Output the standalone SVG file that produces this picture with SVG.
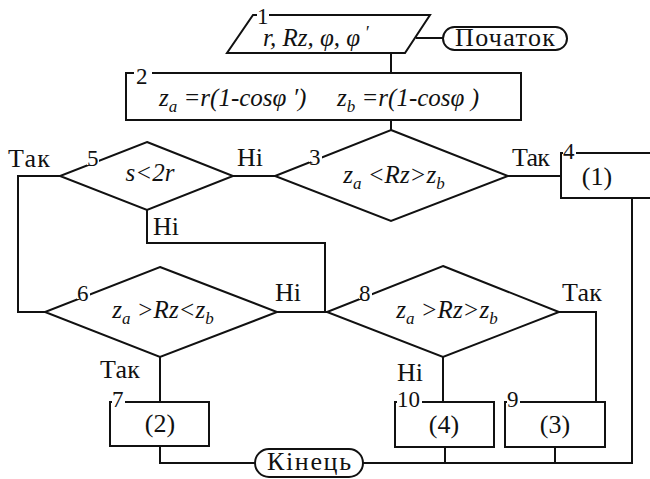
<svg xmlns="http://www.w3.org/2000/svg" width="650" height="479" viewBox="0 0 650 479">
<rect width="650" height="479" fill="#fff"/>
<g id="connectors" fill="none" stroke="#111" stroke-width="2">
<path d="M391,53V73"/>
<path d="M416,38H443"/>
<path d="M391,120V130"/>
<path d="M508,176H561"/>
<path d="M632,198V463H363"/>
<path d="M275,176H233"/>
<path d="M60,176H18V312H45"/>
<path d="M147,210V243H325V312"/>
<path d="M277,312H327"/>
<path d="M559,312H596V402"/>
<path d="M443,357V402"/>
<path d="M160,357V402"/>
<path d="M160,446V463H255"/>
<path d="M445,447V463"/>
<path d="M555,447V463"/>
</g>
<g id="start">
<rect x="443" y="27" width="124" height="23" rx="11.5" fill="#fff" stroke="#111" stroke-width="2"/>
<text font-family="Liberation Serif" font-size="26" fill="#111" text-anchor="middle" x="505" y="46" textLength="100">Початок</text>
</g>
<g id="n1">
<polygon points="253,15 430,15 405,53 227,53" fill="#fff" stroke="#111" stroke-width="2"/>
<rect x="257" y="9" width="12" height="12" fill="#fff"/>
<text font-family="Liberation Serif" font-size="23" fill="#111" x="257" y="24">1</text>
<text font-family="Liberation Serif" font-size="25" font-style="italic" fill="#111" x="263" y="46">r, Rz,  φ,  φ<tspan font-size="18" dy="-7"> ′</tspan></text>
</g>
<g id="n2">
<rect x="126" y="73" width="395" height="47" fill="#fff" stroke="#111" stroke-width="2"/>
<rect x="134" y="68" width="18" height="10" fill="#fff"/>
<text font-family="Liberation Serif" font-size="23" fill="#111" x="136" y="84">2</text>
<text font-family="Liberation Serif" font-size="25" font-style="italic" fill="#111" x="159" y="106">z<tspan font-size="17" dy="6">a</tspan><tspan dy="-6"> =r(1-cosφ ′)</tspan></text>
<text font-family="Liberation Serif" font-size="25" font-style="italic" fill="#111" x="337" y="106">z<tspan font-size="17" dy="6">b</tspan><tspan dy="-6"> =r(1-cosφ )</tspan></text>
</g>
<g id="n3">
<polygon points="391,130 508,176 391,221 275,176" fill="#fff" stroke="#111" stroke-width="2"/>
<rect x="309" y="150" width="13" height="12" fill="#fff"/>
<text font-family="Liberation Serif" font-size="23" fill="#111" x="309" y="165">3</text>
<text font-family="Liberation Serif" font-size="25" font-style="italic" fill="#111" text-anchor="middle" x="394" y="183">z<tspan font-size="17" dy="6">a</tspan><tspan dy="-6"> &lt;Rz&gt;z</tspan><tspan font-size="17" dy="6">b</tspan></text>
<text font-family="Liberation Serif" font-size="26" fill="#111" x="512" y="166" textLength="38">Так</text>
</g>
<g id="n4">
<rect x="561" y="153" width="95" height="45" fill="#fff" stroke="#111" stroke-width="2"/>
<rect x="563" y="147" width="13" height="11" fill="#fff"/>
<text font-family="Liberation Serif" font-size="23" fill="#111" x="563" y="159">4</text>
<text font-family="Liberation Serif" font-size="26" fill="#111" text-anchor="middle" x="597" y="185">(1)</text>
</g>
<g id="n5">
<polygon points="147,142 233,176 147,210 60,176" fill="#fff" stroke="#111" stroke-width="2"/>
<rect x="87" y="153" width="12" height="12" fill="#fff"/>
<text font-family="Liberation Serif" font-size="23" fill="#111" x="87" y="166">5</text>
<text font-family="Liberation Serif" font-size="25" font-style="italic" fill="#111" text-anchor="middle" x="150" y="181">s&lt;2r</text>
<text font-family="Liberation Serif" font-size="26" fill="#111" x="8" y="167" textLength="42">Так</text>
<text font-family="Liberation Serif" font-size="26" fill="#111" x="237" y="166">Ні</text>
<text font-family="Liberation Serif" font-size="26" fill="#111" x="153" y="235">Ні</text>
</g>
<g id="n6">
<polygon points="160,267 277,312 160,357 45,312" fill="#fff" stroke="#111" stroke-width="2"/>
<rect x="77" y="287" width="13" height="12" fill="#fff"/>
<text font-family="Liberation Serif" font-size="23" fill="#111" x="77" y="301">6</text>
<text font-family="Liberation Serif" font-size="25" font-style="italic" fill="#111" text-anchor="middle" x="163" y="318">z<tspan font-size="17" dy="6">a</tspan><tspan dy="-6"> &gt;Rz&lt;z</tspan><tspan font-size="17" dy="6">b</tspan></text>
<text font-family="Liberation Serif" font-size="26" fill="#111" x="275" y="301">Ні</text>
<text font-family="Liberation Serif" font-size="26" fill="#111" x="100" y="378" textLength="40">Так</text>
</g>
<g id="n7">
<rect x="110" y="402" width="99" height="44" fill="#fff" stroke="#111" stroke-width="2"/>
<rect x="112" y="396" width="13" height="10" fill="#fff"/>
<text font-family="Liberation Serif" font-size="23" fill="#111" x="112" y="407">7</text>
<text font-family="Liberation Serif" font-size="26" fill="#111" text-anchor="middle" x="160" y="432">(2)</text>
</g>
<g id="n8">
<polygon points="443,266 559,312 443,357 327,312" fill="#fff" stroke="#111" stroke-width="2"/>
<rect x="359" y="287" width="13" height="12" fill="#fff"/>
<text font-family="Liberation Serif" font-size="23" fill="#111" x="359" y="301">8</text>
<text font-family="Liberation Serif" font-size="25" font-style="italic" fill="#111" text-anchor="middle" x="447" y="318">z<tspan font-size="17" dy="6">a</tspan><tspan dy="-6"> &gt;Rz&gt;z</tspan><tspan font-size="17" dy="6">b</tspan></text>
<text font-family="Liberation Serif" font-size="26" fill="#111" x="562" y="301" textLength="40">Так</text>
<text font-family="Liberation Serif" font-size="26" fill="#111" x="397" y="381">Ні</text>
</g>
<g id="n9">
<rect x="505" y="402" width="100" height="45" fill="#fff" stroke="#111" stroke-width="2"/>
<rect x="507" y="396" width="13" height="10" fill="#fff"/>
<text font-family="Liberation Serif" font-size="23" fill="#111" x="507" y="407">9</text>
<text font-family="Liberation Serif" font-size="26" fill="#111" text-anchor="middle" x="555" y="433">(3)</text>
</g>
<g id="n10">
<rect x="395" y="402" width="99" height="45" fill="#fff" stroke="#111" stroke-width="2"/>
<rect x="397" y="396" width="25" height="10" fill="#fff"/>
<text font-family="Liberation Serif" font-size="23" fill="#111" x="397" y="407">10</text>
<text font-family="Liberation Serif" font-size="26" fill="#111" text-anchor="middle" x="444" y="433">(4)</text>
</g>
<g id="end">
<rect x="255" y="449" width="108" height="28" rx="14" fill="#fff" stroke="#111" stroke-width="2"/>
<text font-family="Liberation Serif" font-size="26" fill="#111" text-anchor="middle" x="309" y="470" textLength="84">Кінець</text>
</g>
</svg>
